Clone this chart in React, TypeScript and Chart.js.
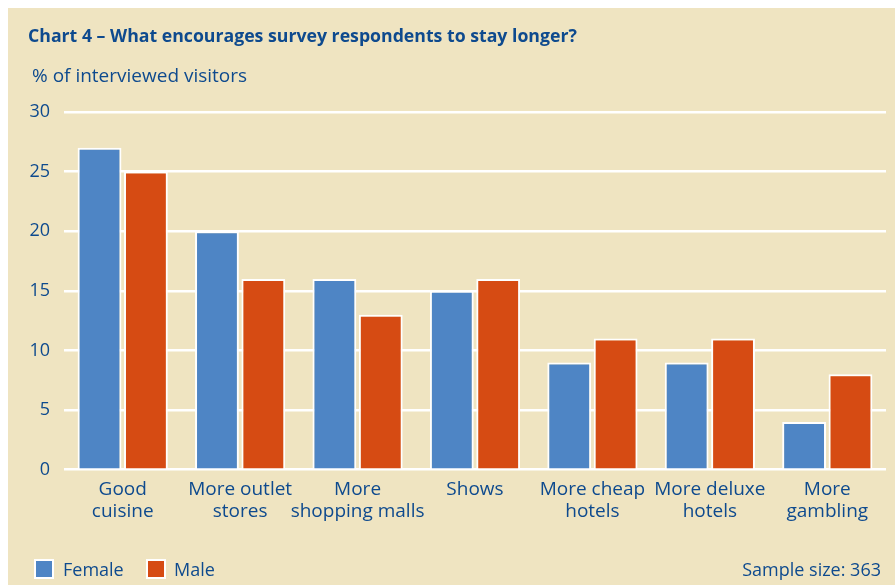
import React, { useEffect, useRef } from "react";
import { Chart, registerables } from "chart.js";

Chart.register(...registerables);

const categories: string[][] = [
  ["Good", "cuisine"],
  ["More outlet", "stores"],
  ["More", "shopping malls"],
  ["Shows"],
  ["More cheap", "hotels"],
  ["More deluxe", "hotels"],
  ["More", "gambling"],
];
const femaleValues = [27, 20, 16, 15, 9, 9, 4];
const maleValues = [25, 16, 13, 16, 11, 11, 8];
const yTicks = [0, 5, 10, 15, 20, 25, 30];

const TITLE = "Chart 4 – What encourages survey respondents to stay longer?";
const SUBTITLE = "% of interviewed visitors";
const SAMPLE = "Sample size: 363";

const BG = "#EFE4C1";
const TEXT = "#0E4A8E";
const BLUE = "#4E85C5";
const ORANGE = "#D64B13";
const FONT = "'Open Sans', 'Noto Sans', sans-serif";

const W = 887;
const H = 577;

export default function App() {
  const ref = useRef<HTMLCanvasElement | null>(null);

  useEffect(() => {
    if (!ref.current) return;
    const padLeft = 10;
    const chart = new Chart(ref.current, {
      type: "bar",
      data: {
        labels: categories,
        datasets: [
          {
            label: "Female",
            data: femaleValues,
            backgroundColor: BLUE,
            borderColor: "#ffffff",
            borderWidth: 2,
            categoryPercentage: 0.79,
            barPercentage: 0.945,
          },
          {
            label: "Male",
            data: maleValues,
            backgroundColor: ORANGE,
            borderColor: "#ffffff",
            borderWidth: 2,
            categoryPercentage: 0.79,
            barPercentage: 0.945,
          },
        ],
      },
      options: {
        responsive: false,
        animation: false,
        layout: { padding: { left: padLeft, right: 9, top: 104, bottom: 54 } },
        plugins: {
          legend: { display: false },
          tooltip: { enabled: false },
          title: { display: false },
        },
        scales: {
          x: {
            grid: { display: false, drawTicks: false },
            border: { display: false },
            ticks: {
              color: TEXT,
              font: { family: FONT, size: 19, lineHeight: 1.14 },
              padding: 9,
              autoSkip: false,
              maxRotation: 0,
              minRotation: 0,
            },
          },
          y: {
            min: 0,
            max: 30,
            afterFit: (s: any) => {
              s.width = 56 - padLeft;
            },
            afterBuildTicks: (s: any) => {
              s.ticks = yTicks.map((v) => ({ value: v }));
            },
            grid: { color: "#ffffff", lineWidth: 2.5, drawTicks: false },
            border: { display: false },
            ticks: {
              color: TEXT,
              font: { family: FONT, size: 18 },
              padding: 14,
            },
          },
        },
      },
    });
    return () => chart.destroy();
  }, []);

  const box = (color: string): React.CSSProperties => ({
    position: "absolute",
    width: 16,
    height: 16,
    background: color,
    border: "2px solid #ffffff",
    top: 551,
  });
  const txt: React.CSSProperties = {
    position: "absolute",
    fontFamily: FONT,
    fontSize: 18,
    lineHeight: "20px",
    color: TEXT,
    whiteSpace: "nowrap",
  };

  return (
    <div
      style={{
        position: "fixed",
        left: 8,
        top: 8,
        width: W,
        height: H,
        background: BG,
        overflow: "hidden",
      }}
    >
      <canvas ref={ref} width={W} height={H} style={{ position: "absolute", left: 0, top: 0 }} />
      <div style={{ ...txt, left: 20, top: 17, fontWeight: 700, fontSize: 17.7 }}>{TITLE}</div>
      <div style={{ ...txt, left: 24, top: 57, fontSize: 19 }}>{SUBTITLE}</div>
      <div style={{ ...box(BLUE), left: 26 }} />
      <div style={{ ...txt, left: 55, top: 551 }}>Female</div>
      <div style={{ ...box(ORANGE), left: 138 }} />
      <div style={{ ...txt, left: 166, top: 551 }}>Male</div>
      <div style={{ ...txt, right: 14, top: 551 }}>{SAMPLE}</div>
    </div>
  );
}
